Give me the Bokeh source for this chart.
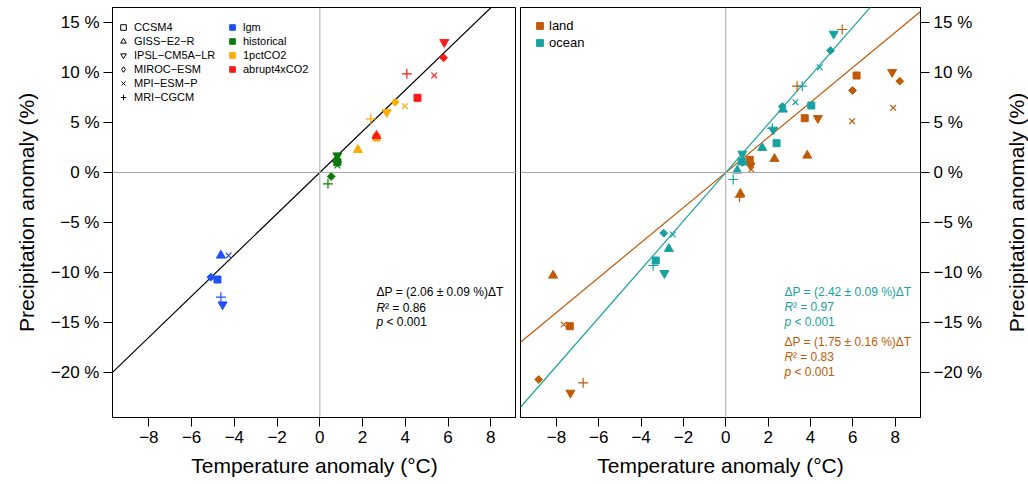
import math
from bokeh.plotting import figure
from bokeh.layouts import row
from bokeh.models import Span, Label, Legend, LegendItem, Range1d, FixedTicker
from bokeh.embed import file_html
from bokeh.resources import INLINE

FONT = "Liberation Sans"

# ---------------- data ----------------
models = ["CCSM4", "GISS\u2212E2\u2212R", "IPSL\u2212CM5A\u2212LR", "MIROC\u2212ESM", "MPI\u2212ESM\u2212P", "MRI\u2212CGCM"]
model_markers = ["square", "triangle", "inverted_triangle", "diamond", "x", "cross"]
scenarios = ["lgm", "historical", "1pctCO2", "abrupt4xCO2"]
scenario_colors = ["#1f4fff", "#0b7a0b", "#ffaa00", "#ff1a1a"]
regions = ["land", "ocean"]
region_colors = ["#c05a06", "#17a2a2"]

# Left panel: global mean, model order as in `models`
global_lgm_dT = [-4.79, -4.63, -4.55, -5.10, -4.27, -4.63]
global_lgm_dP = [-10.70, -8.30, -13.20, -10.47, -8.30, -12.47]
global_hist_dT = [0.82, 0.80, 0.82, 0.53, 0.82, 0.38]
global_hist_dP = [1.03, 1.30, 1.70, -0.40, 0.70, -1.13]
global_1pct_dT = [2.65, 1.78, 3.13, 3.52, 3.98, 2.38]
global_1pct_dP = [3.50, 2.27, 6.03, 7.03, 6.63, 5.37]
global_4x_dT = [4.57, 2.65, 5.82, 5.79, 5.35, 4.07]
global_4x_dP = [7.47, 3.67, 13.03, 11.47, 9.70, 9.87]

# Right panel: land
land_lgm_dT = [-7.37, -8.16, -7.34, -8.84, -7.66, -6.74]
land_lgm_dP = [-15.37, -10.30, -22.03, -20.70, -15.20, -21.03]
land_hist_dT = [1.13, 0.69, 1.17, 1.10, 1.21, 0.65]
land_hist_dP = [1.27, -2.13, 0.70, 1.00, 0.30, -2.47]
land_1pct_dT = [3.73, 2.30, 4.35, 5.99, 5.97, 3.37]
land_1pct_dP = [5.43, 1.37, 5.43, 8.20, 5.13, 8.63]
land_4x_dT = [6.18, 3.85, 7.86, 8.22, 7.91, 5.50]
land_4x_dP = [9.70, 1.70, 10.03, 9.13, 6.47, 14.30]

# Right panel: ocean
ocean_lgm_dT = [-3.31, -2.69, -2.90, -2.93, -2.50, -3.43]
ocean_lgm_dP = [-8.80, -7.63, -10.07, -6.07, -6.20, -9.30]
ocean_hist_dT = [0.75, 0.54, 0.78, 0.78, 0.90, 0.35]
ocean_hist_dP = [1.10, 0.20, 1.87, 1.03, 0.90, -0.70]
ocean_1pct_dT = [2.40, 1.72, 2.24, 2.67, 3.29, 2.20]
ocean_1pct_dP = [2.93, 2.47, 4.27, 6.60, 7.03, 4.40]
ocean_4x_dT = [4.04, 2.70, 5.10, 4.95, 4.44, 3.61]
ocean_4x_dP = [6.70, 6.30, 13.87, 12.20, 10.53, 8.63]

global_slope = 2.06
land_slope = 1.75
ocean_slope = 2.42

global_stats = ["\u0394P = (2.06 \u00b1 0.09 %)\u0394T", "0.86", "0.001"]
ocean_stats = ["\u0394P = (2.42 \u00b1 0.09 %)\u0394T", "0.97", "0.001"]
land_stats = ["\u0394P = (1.75 \u00b1 0.16 %)\u0394T", "0.83", "0.001"]

x_ticks = [-8, -6, -4, -2, 0, 2, 4, 6, 8]
x_tick_labels = ["\u22128", "\u22126", "\u22124", "\u22122", "0", "2", "4", "6", "8"]
y_ticks = [-20, -15, -10, -5, 0, 5, 10, 15]
y_tick_labels = ["\u221220 %", "\u221215 %", "\u221210 %", "\u22125 %", "0 %", "5 %", "10 %", "15 %"]

x_title = "Temperature anomaly (\u00b0C)"
y_title = "Precipitation anomaly (%)"

# ---------------- styling ----------------
X0, X1 = -9.7, 9.2
Y0, Y1 = -24.5, 16.5
marker_size = {"square": 7, "triangle": 9, "inverted_triangle": 9, "diamond": 5.5, "x": 8, "cross": 10}
HEIGHT = 482
TOP, BOTTOM = 7, 65


def make_fig(width, mbl, mbr, side):
    p = figure(width=width, height=HEIGHT, x_range=Range1d(X0, X1), y_range=Range1d(Y0, Y1),
               output_backend="svg", toolbar_location=None,
               min_border_left=mbl, min_border_right=mbr, min_border_top=TOP, min_border_bottom=BOTTOM,
               y_axis_location=side)
    p.grid.visible = False
    p.outline_line_color = "black"
    p.outline_line_alpha = 1
    p.outline_line_width = 1
    p.background_fill_color = "white"
    p.border_fill_color = "white"
    for ax in p.axis:
        ax.axis_line_color = "black"
        ax.major_tick_line_color = "black"
        ax.major_tick_out = 9
        ax.major_tick_in = 0
        ax.minor_tick_line_color = None
        ax.major_label_text_font = FONT
        ax.major_label_text_font_size = "17px"
        ax.major_label_text_color = "black"
        ax.axis_label_text_font = FONT
        ax.axis_label_text_font_size = "21px"
        ax.axis_label_text_font_style = "normal"
        ax.axis_label_text_color = "black"
        ax.major_label_standoff = 4
    p.xaxis.ticker = FixedTicker(ticks=x_ticks)
    p.xaxis.major_label_overrides = dict(zip(x_ticks, x_tick_labels))
    p.xaxis.axis_label = x_title
    p.xaxis.axis_label_standoff = 8
    p.yaxis.ticker = FixedTicker(ticks=y_ticks)
    p.yaxis.major_label_overrides = dict(zip(y_ticks, y_tick_labels))
    p.add_layout(Span(location=0, dimension="height", line_color="#a8a8a8", line_width=1))
    p.add_layout(Span(location=0, dimension="width", line_color="#a8a8a8", line_width=1))
    return p


def add_points(p, xs, ys, color):
    for i, m in enumerate(model_markers):
        if m == "diamond":
            p.scatter([xs[i]], [ys[i]], marker="square", angle=math.pi / 4, size=marker_size[m],
                      fill_color=color, line_color=color)
        elif m in ("x", "cross"):
            p.scatter([xs[i]], [ys[i]], marker=m, size=marker_size[m], line_color=color, line_width=1.2)
        else:
            p.scatter([xs[i]], [ys[i]], marker=m, size=marker_size[m], fill_color=color, line_color=color)


def add_fit(p, slope, color):
    p.line([X0, X1], [slope * X0, slope * X1], line_color=color, line_width=1.2)


def add_stats(p, stats, x, ys, color):
    kw = dict(text_font=FONT, text_font_size="12px", text_color=color, text_baseline="middle",
              x_units="data", y_units="data")
    p.add_layout(Label(x=x, y=ys[0], text=stats[0], **kw))
    p.add_layout(Label(x=x, y=ys[1], text="R", text_font_style="italic", **kw))
    p.add_layout(Label(x=x, y=ys[1], x_offset=8.5, text="\u00b2 = " + stats[1], **kw))
    p.add_layout(Label(x=x, y=ys[2], text="p", text_font_style="italic", **kw))
    p.add_layout(Label(x=x, y=ys[2], x_offset=10, text="< " + stats[2], **kw))


def legend_style(lg, font_size, gh):
    lg.label_text_font = FONT
    lg.label_text_font_size = font_size
    lg.label_text_color = "black"
    lg.glyph_height = gh
    lg.glyph_width = gh
    lg.label_height = gh
    lg.spacing = 0
    lg.padding = 0
    lg.margin = 0
    lg.border_line_color = None
    lg.background_fill_alpha = 0
    lg.label_standoff = 4


NAN = float("nan")

# ---------------- left panel ----------------
left = make_fig(516, 112, 0, "left")
left.yaxis.axis_label = y_title
left.yaxis.axis_label_standoff = 10
add_fit(left, global_slope, "black")
for (xs, ys), c in zip([(global_lgm_dT, global_lgm_dP), (global_hist_dT, global_hist_dP),
                        (global_1pct_dT, global_1pct_dP), (global_4x_dT, global_4x_dP)], scenario_colors):
    add_points(left, xs, ys, c)

model_items = []
for name, m in zip(models, model_markers):
    r = left.scatter([NAN], [NAN], marker=m, fill_color=None, line_color="black", line_width=1)
    model_items.append(LegendItem(label=name, renderers=[r]))
lg1 = Legend(items=model_items, location=(4, 313))
legend_style(lg1, "11px", 14)
left.add_layout(lg1)

scen_items = []
for name, c in zip(scenarios, scenario_colors):
    r = left.scatter([NAN], [NAN], marker="square", fill_color=c, line_color=c)
    scen_items.append(LegendItem(label=name, renderers=[r]))
lg2 = Legend(items=scen_items, location=(113, 341))
legend_style(lg2, "11px", 14)
left.add_layout(lg2)

add_stats(left, global_stats, 2.65, [-11.97, -13.5, -14.97], "black")

# ---------------- right panel ----------------
right = make_fig(488, 4, 84, "right")

add_fit(right, land_slope, region_colors[0])
add_fit(right, ocean_slope, region_colors[1])
for xs, ys in [(land_lgm_dT, land_lgm_dP), (land_hist_dT, land_hist_dP),
               (land_1pct_dT, land_1pct_dP), (land_4x_dT, land_4x_dP)]:
    add_points(right, xs, ys, region_colors[0])
for xs, ys in [(ocean_lgm_dT, ocean_lgm_dP), (ocean_hist_dT, ocean_hist_dP),
               (ocean_1pct_dT, ocean_1pct_dP), (ocean_4x_dT, ocean_4x_dP)]:
    add_points(right, xs, ys, region_colors[1])

reg_items = []
for name, c in zip(regions, region_colors):
    r = right.scatter([NAN], [NAN], marker="square", fill_color=c, line_color=c)
    reg_items.append(LegendItem(label=name, renderers=[r]))
lg3 = Legend(items=reg_items, location=(11, 366))
legend_style(lg3, "13px", 17)
lg3.label_standoff = 1
right.add_layout(lg3)

add_stats(right, ocean_stats, 2.77, [-11.97, -13.47, -14.97], region_colors[1])
add_stats(right, land_stats, 2.77, [-16.9, -18.43, -19.9], region_colors[0])

# ---------------- right-hand axis title (reads bottom-to-top, like the left one) ----------------
rtitle = figure(width=24, height=HEIGHT, x_range=Range1d(0, 1), y_range=Range1d(Y0, Y1),
                output_backend="svg", toolbar_location=None, x_axis_location=None, y_axis_location=None,
                min_border_left=0, min_border_right=0, min_border_top=TOP, min_border_bottom=BOTTOM)
rtitle.grid.visible = False
rtitle.outline_line_color = None
rtitle.add_layout(Label(x=0.5, y=(Y0 + Y1) / 2, x_units="data", y_units="data", text=y_title,
                        angle=math.pi / 2, text_align="center", text_baseline="middle",
                        text_font=FONT, text_font_size="21px", text_color="black"))

layout = row(left, right, rtitle)
open("out.html", "w").write(file_html(layout, INLINE))
